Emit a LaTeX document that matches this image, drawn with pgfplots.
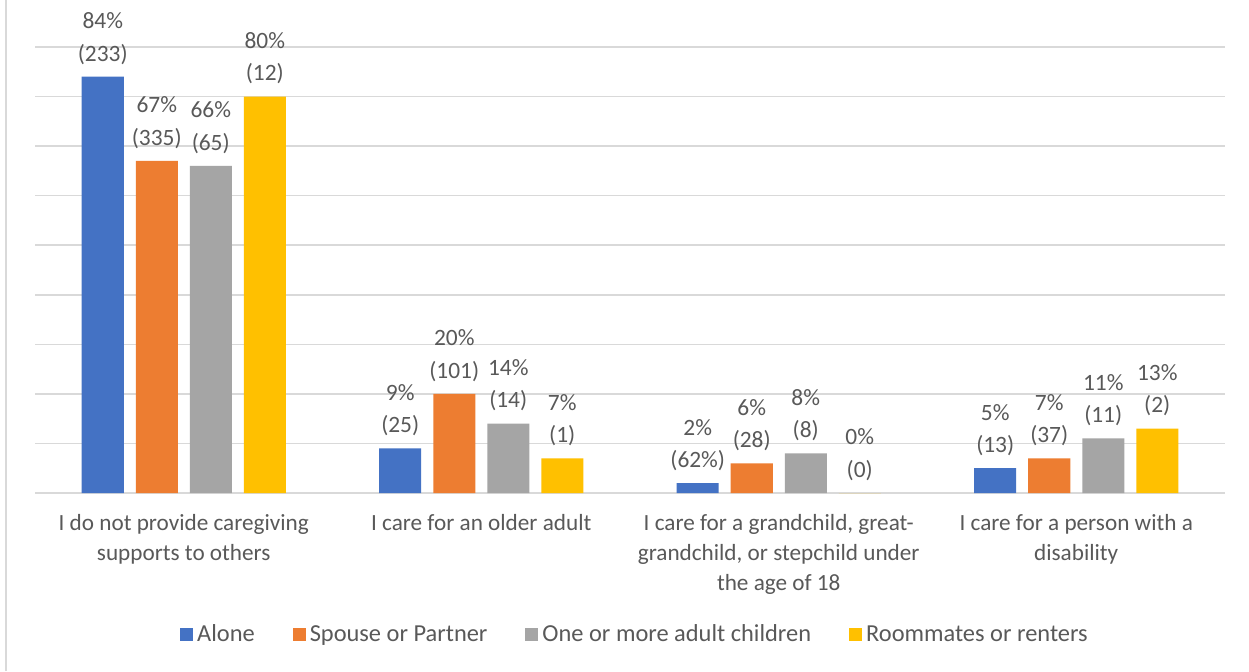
\documentclass[border=0pt]{standalone}
\usepackage{pgfplots}
\pgfplotsset{compat=1.18}
\usepackage{fontspec}
\setmainfont{Carlito}
\definecolor{cA}{HTML}{4472C4}
\definecolor{cB}{HTML}{ED7D31}
\definecolor{cC}{HTML}{A5A5A5}
\definecolor{cD}{HTML}{FFC000}
\definecolor{txt}{HTML}{595959}
\definecolor{grd}{HTML}{D9D9D9}
\begin{document}
\begin{tikzpicture}
\path[use as bounding box] (-17.5pt,-89pt) rectangle (607pt,246.5pt);
\fill[white] (-17.5pt,-89pt) rectangle (607pt,246.5pt);
\draw[grd,line width=1.2pt] (-14.5pt,-89pt) -- (-14.5pt,246.5pt);
\begin{axis}[
  at={(0,0)}, anchor=south west,
  scale only axis, width=595pt, height=223pt,
  ybar=6pt, bar width=21pt,
  xmin=-0.5, xmax=3.5, ymin=0, ymax=90,
  xtick={0,1,2,3},
  xticklabels={{I do not provide caregiving\\supports to others},
               {I care for an older adult},
               {I care for a grandchild, great-\\grandchild, or stepchild under\\the age of 18},
               {I care for a person with a\\disability}},
  xticklabel style={align=center, font=\fontsize{11.6pt}{15pt}\selectfont, text=txt, anchor=north, yshift=-7pt},
  ytick={0,10,...,90}, yticklabels={},
  ymajorgrids, grid style={grd, line width=0.8pt},
  axis line style={draw=none},
  major tick length=0pt,
  point meta=explicit symbolic,
  nodes near coords,
  every node near coord/.append style={align=center, font=\fontsize{11.7pt}{16.2pt}\selectfont, text=txt, anchor=south, inner sep=2pt, yshift=4pt},
  legend columns=4,
  legend style={at={(0.505,-0.318)}, anchor=center, draw=none, font=\fontsize{12.2pt}{14pt}\selectfont, text=txt,
    /tikz/every even column/.append style={column sep=17pt}},
  legend image code/.code={\fill[#1] (0pt,-3.25pt) rectangle (6.5pt,3.25pt);},
]
\addplot[fill=cA, draw=none] coordinates {(0,84) [84\%\\(233)] (1,9) [9\%\\(25)] (2,2) [2\%\\(62\%)] (3,5) [5\%\\(13)]};
\addplot[fill=cB, draw=none] coordinates {(0,67) [67\%\\(335)] (1,20) [20\%\\(101)] (2,6) [6\%\\(28)] (3,7) [7\%\\(37)]};
\addplot[fill=cC, draw=none] coordinates {(0,66) [66\%\\(65)] (1,14) [14\%\\(14)] (2,8) [8\%\\(8)] (3,11) [11\%\\(11)]};
\addplot[fill=cD, draw=none] coordinates {(0,80) [80\%\\(12)] (1,7) [7\%\\(1)] (2,0) [0\%\\(0)] (3,13) [13\%\\(2)]};
\legend{Alone, Spouse or Partner, One or more adult children, Roommates or renters}
\end{axis}
\end{tikzpicture}
\end{document}
